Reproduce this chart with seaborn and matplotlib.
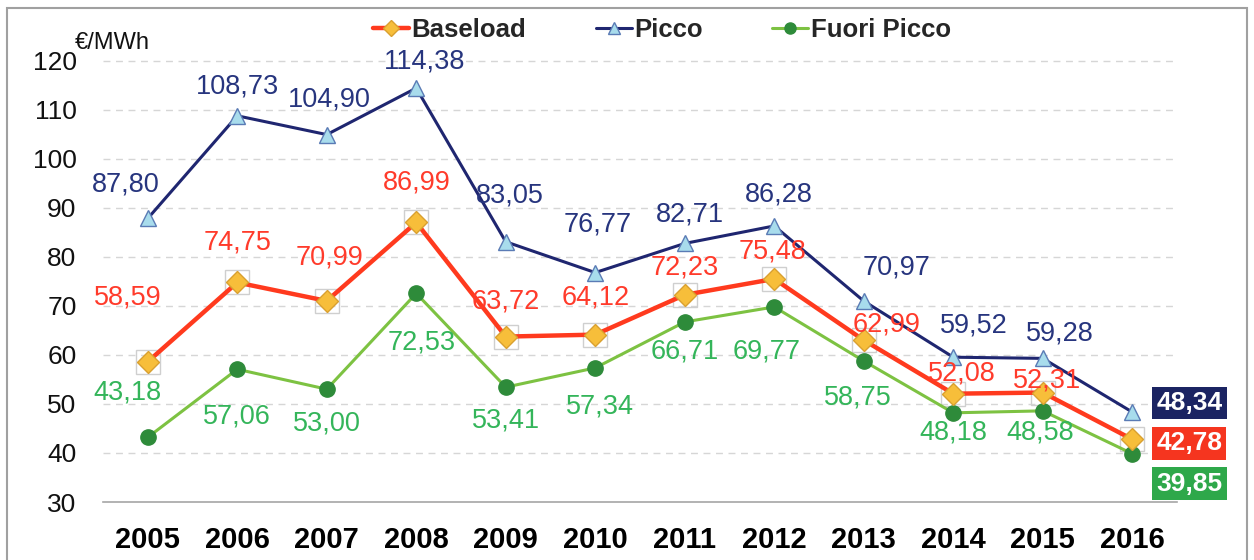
import matplotlib
matplotlib.use("Agg")
import matplotlib.pyplot as plt
from matplotlib.lines import Line2D
from matplotlib.patches import Rectangle
import seaborn as sns
import numpy as np

years = ["2005", "2006", "2007", "2008", "2009", "2010", "2011", "2012", "2013", "2014", "2015", "2016"]
baseload = [58.59, 74.75, 70.99, 86.99, 63.72, 64.12, 72.23, 75.48, 62.99, 52.08, 52.31, 42.78]
picco = [87.80, 108.73, 104.90, 114.38, 83.05, 76.77, 82.71, 86.28, 70.97, 59.52, 59.28, 48.34]
fuori_picco = [43.18, 57.06, 53.00, 72.53, 53.41, 57.34, 66.71, 69.77, 58.75, 48.18, 48.58, 39.85]
y_ticks = [30, 40, 50, 60, 70, 80, 90, 100, 110, 120]
unit_label = "€/MWh"
series_names = ["Baseload", "Picco", "Fuori Picco"]

# label offsets (pixels) - layout only
picco_off = [(-22, 34), (0, 29), (3, 35), (8, 27), (4, 46), (2, 48), (5, 29), (5, 31), (33, 34), (21, 32), (17, 25)]
base_off = [(-20, 64), (0, 40), (3, 43), (0, 40), (0, 35), (0, 37), (0, 27), (-2, 27), (23, 16), (9, 20), (4, 12)]
fuori_off = [(-20, 45), (0, -47), (0, -34), (5, -49), (0, -33), (5, -39), (0, -30), (-8, -45), (-6, -37), (0, -20), (-3, -22)]

sns.set_theme(style="white")
plt.rcParams['font.family'] = ['Liberation Sans', 'DejaVu Sans']

RED = "#FF3A1E"
NAVY = "#1F2670"
LGREEN = "#7DC242"
DGREEN = "#2E8B3A"
GOLD = "#F7BE3A"
LBLUE = "#A8DCEC"
PICCO_TXT = "#27357E"
BASE_TXT = "#FF3B2B"
FUORI_TXT = "#34B55A"

fig = plt.figure(figsize=(12.54, 5.6), dpi=100)
ax = fig.add_axes([103/1254, 1-502/560, (1177-103)/1254, (502-36)/560])

x = np.arange(len(years))

# grey squares behind baseload markers
ax.plot(x, baseload, linestyle="none", marker="s", markersize=17, markerfacecolor="none",
        markeredgecolor="#CFCFCF", markeredgewidth=1.0, zorder=3)

sns.lineplot(x=x, y=fuori_picco, ax=ax, color=LGREEN, lw=2.2, marker="o", markersize=11,
             markerfacecolor=DGREEN, markeredgecolor=DGREEN, markeredgewidth=1, zorder=4)
sns.lineplot(x=x, y=baseload, ax=ax, color=RED, lw=3.2, marker="D", markersize=11,
             markerfacecolor=GOLD, markeredgecolor="#D9A030", markeredgewidth=1, zorder=5)
sns.lineplot(x=x, y=picco, ax=ax, color=NAVY, lw=2.2, marker="^", markersize=12,
             markerfacecolor=LBLUE, markeredgecolor="#5A7BB5", markeredgewidth=1, zorder=6)

def fmt(v):
    return f"{v:.2f}".replace(".", ",")

for vals, offs, col in [(picco, picco_off, PICCO_TXT), (baseload, base_off, BASE_TXT), (fuori_picco, fuori_off, FUORI_TXT)]:
    for i, (v, o) in enumerate(zip(vals[:-1], offs)):
        ax.annotate(fmt(v), (x[i], v), xytext=o, textcoords="offset pixels",
                    ha="center", va="center", fontsize=19.5, color=col, zorder=7)

# last-value boxes
last = len(years) - 1
for v, dy, bg in [(picco[-1], 9, "#1B2462"), (baseload[-1], -4, "#F5351F"), (fuori_picco[-1], -30, "#2EA84A")]:
    ax.annotate(fmt(v), (x[last], v), xytext=(57, dy), textcoords="offset pixels",
                ha="center", va="center", fontsize=19, fontweight="bold", color="white",
                bbox=dict(boxstyle="square,pad=0.16", fc=bg, ec="none"), zorder=8,
                annotation_clip=False)

ax.set_xlim(-0.5, len(years) - 0.5)
ax.set_ylim(30, 125)
ax.set_yticks(y_ticks)
ax.set_yticklabels([str(t) for t in y_ticks], fontsize=19, color="#111111")
ax.set_xticks(x)
ax.set_xticklabels(years, fontsize=21, fontweight="bold", color="#000000")
ax.set_xticks(np.arange(-0.5, len(years), 1.0), minor=True)
ax.tick_params(axis="x", which="major", length=0, pad=17)
ax.tick_params(axis="x", which="minor", length=9, width=1.2, color="#A6A6A6", direction="out")
ax.tick_params(axis="y", length=0, pad=19)
for yv in y_ticks[1:]:
    ax.axhline(yv, color="#D6D6D6", lw=1.0, ls=(0, (5, 4)), zorder=1)
for s in ["top", "right", "left"]:
    ax.spines[s].set_visible(False)
ax.spines["bottom"].set_color("#A6A6A6")
ax.spines["bottom"].set_linewidth(1.2)
ax.set_xlabel("")
ax.set_ylabel("")

fig.text(75/1254, 1-43/560, unit_label, fontsize=17, ha="left", va="center", color="#111111")

handles = [
    Line2D([], [], color=RED, lw=3.2, marker="D", markersize=8, markerfacecolor=GOLD, markeredgecolor="#D9A030"),
    Line2D([], [], color=NAVY, lw=2.2, marker="^", markersize=9, markerfacecolor=LBLUE, markeredgecolor="#5A7BB5"),
    Line2D([], [], color=LGREEN, lw=2.2, marker="o", markersize=8, markerfacecolor=DGREEN, markeredgecolor=DGREEN),
]
fig.legend(handles, series_names, loc="center", bbox_to_anchor=(662/1254, 1-30/560), ncol=3,
           frameon=False, prop={"size": 18.5, "weight": "bold"}, handlelength=1.4, handletextpad=0.1,
           columnspacing=2.7, borderaxespad=0)

fig.patches.append(Rectangle((7/1254, -0.05), (1247-7)/1254, 1.05-8/560, transform=fig.transFigure,
                             fill=False, ec="#A0A0A0", lw=1.5))

fig.savefig("out.png", dpi=100)
